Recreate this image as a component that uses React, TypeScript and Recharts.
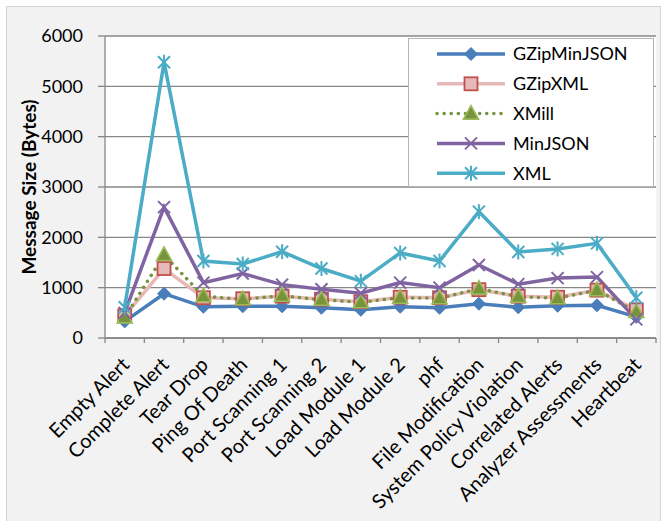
import React from 'react';
import { LineChart, Line, XAxis, YAxis, CartesianGrid, Legend } from 'recharts';

// Alert types on the category axis
const categories = [
  'Empty Alert',
  'Complete Alert',
  'Tear Drop',
  'Ping Of Death',
  'Port Scanning 1',
  'Port Scanning 2',
  'Load Module 1',
  'Load Module 2',
  'phf',
  'File Modification',
  'System Policy Violation',
  'Correlated Alerts',
  'Analyzer Assessments',
  'Heartbeat',
];

// Message sizes in bytes per encoding
const gzipMinJson = [330, 880, 620, 630, 630, 600, 560, 620, 600, 680, 610, 640, 650, 420];
const gzipXml = [440, 1380, 800, 780, 830, 770, 720, 810, 800, 960, 830, 810, 950, 560];
const xmill = [410, 1650, 830, 770, 840, 760, 710, 800, 790, 980, 820, 790, 950, 520];
const minJson = [500, 2600, 1100, 1280, 1060, 970, 890, 1100, 1000, 1450, 1070, 1190, 1210, 370];
const xml = [610, 5480, 1530, 1470, 1715, 1380, 1130, 1690, 1530, 2510, 1710, 1770, 1880, 800];

const yTicks = [0, 1000, 2000, 3000, 4000, 5000, 6000];

type MarkerKind = 'diamond' | 'square' | 'triangle' | 'cross' | 'star';

interface SeriesDef {
  key: string;
  name: string;
  values: number[];
  color: string;
  width: number;
  dash?: string;
  marker: MarkerKind;
}

const series: SeriesDef[] = [
  { key: 'gzipMinJson', name: 'GZipMinJSON', values: gzipMinJson, color: '#4a7ebb', width: 3.5, marker: 'diamond' },
  { key: 'gzipXml', name: 'GZipXML', values: gzipXml, color: '#e6b9b8', width: 3.5, marker: 'square' },
  { key: 'xmill', name: 'XMill', values: xmill, color: '#77933c', width: 3.5, dash: '0.1 7', marker: 'triangle' },
  { key: 'minJson', name: 'MinJSON', values: minJson, color: '#8064a2', width: 3.5, marker: 'cross' },
  { key: 'xml', name: 'XML', values: xml, color: '#4bacc6', width: 3.5, marker: 'star' },
];

const data = categories.map((name, i) => {
  const row: Record<string, string | number> = { name };
  series.forEach((s) => {
    row[s.key] = s.values[i];
  });
  return row;
});

const FONT = 'Lato, "Open Sans", sans-serif';

// chart geometry
const CHART_W = 662;
const CHART_H = 521;
const MARGIN = { top: 36, right: 6, bottom: 0, left: 0 };
const Y_AXIS_W = 105;
const PLOT_LEFT = MARGIN.left + Y_AXIS_W;
const PLOT_W = CHART_W - PLOT_LEFT - MARGIN.right;
const BAND = PLOT_W / categories.length;

function Marker({ kind, cx, cy }: { kind: MarkerKind; cx: number; cy: number }) {
  switch (kind) {
    case 'diamond':
      return (
        <polygon
          points={`${cx},${cy - 6.5} ${cx + 6.5},${cy} ${cx},${cy + 6.5} ${cx - 6.5},${cy}`}
          fill="#4a7ebb"
          stroke="#4a7ebb"
          strokeWidth={1}
        />
      );
    case 'square':
      return (
        <rect x={cx - 6.5} y={cy - 6.5} width={13} height={13} fill="#e6b9b8" stroke="#c0504d" strokeWidth={1.8} />
      );
    case 'triangle':
      return (
        <polygon
          points={`${cx},${cy - 8} ${cx + 7.5},${cy + 5.5} ${cx - 7.5},${cy + 5.5}`}
          fill="#77933c"
          stroke="#9bbb59"
          strokeWidth={1.6}
        />
      );
    case 'cross':
      return (
        <g stroke="#8064a2" strokeWidth={2}>
          <line x1={cx - 6} y1={cy - 6} x2={cx + 6} y2={cy + 6} />
          <line x1={cx - 6} y1={cy + 6} x2={cx + 6} y2={cy - 6} />
        </g>
      );
    case 'star':
    default:
      return (
        <g stroke="#4bacc6" strokeWidth={2}>
          <line x1={cx - 6} y1={cy - 6} x2={cx + 6} y2={cy + 6} />
          <line x1={cx - 6} y1={cy + 6} x2={cx + 6} y2={cy - 6} />
          <line x1={cx} y1={cy - 7.5} x2={cx} y2={cy + 7.5} />
        </g>
      );
  }
}

// Category label rotated 45°, with tick marks on the category boundaries
function CategoryTick(props: any) {
  const { x, y, payload } = props;
  const index = categories.indexOf(payload.value);
  const cx = typeof x === 'number' ? x : PLOT_LEFT + BAND * (index + 0.5);
  const left = cx - BAND / 2;
  const axisY = y - 5;
  const isLast = index === categories.length - 1;
  const tx = cx + 6;
  const ty = y + 23;
  return (
    <g>
      <line x1={left} y1={axisY} x2={left} y2={axisY + 5} stroke="#868686" strokeWidth={1.3} />
      {isLast && <line x1={left + BAND} y1={axisY} x2={left + BAND} y2={axisY + 5} stroke="#868686" strokeWidth={1.3} />}
      <text
        x={tx}
        y={ty}
        textAnchor="end"
        fontFamily={FONT}
        fontSize={20}
        fill="#000"
        transform={`rotate(-45 ${tx} ${ty})`}
      >
        {payload.value}
      </text>
    </g>
  );
}

function LegendBox() {
  return (
    <div
      style={{
        width: 244,
        height: 147,
        background: '#fff',
        border: '1.5px solid #b5b5b5',
        boxSizing: 'content-box',
      }}
    >
      <svg width={244} height={147}>
        {series.map((s, i) => {
          const cy = 15 + i * 29.8;
          return (
            <g key={s.key}>
              <line
                x1={28}
                y1={cy}
                x2={96}
                y2={cy}
                stroke={s.color}
                strokeWidth={s.width}
                strokeDasharray={s.dash}
                strokeLinecap={s.dash ? 'round' : 'butt'}
              />
              <Marker kind={s.marker} cx={62} cy={cy} />
              <text x={104} y={cy} dy="0.36em" fontFamily={FONT} fontSize={18} fill="#000">
                {s.name}
              </text>
            </g>
          );
        })}
      </svg>
    </div>
  );
}

export default function App() {
  return (
    <div style={{ position: 'absolute', left: 0, top: 0, width: CHART_W, height: CHART_H, overflow: 'hidden', background: '#fff' }}>
      <div
        style={{
          position: 'absolute',
          left: 6,
          top: 6,
          width: 653,
          height: 540,
          background: '#f2f2f2',
          border: '1.5px solid #d4d4d4',
        }}
      />
      <div style={{ position: 'absolute', left: 0, top: 0 }}>
        <LineChart width={CHART_W} height={CHART_H} data={data} margin={MARGIN}>
          <CartesianGrid vertical={false} stroke="#878787" strokeWidth={1.3} fill="#ffffff" />
          <XAxis
            dataKey="name"
            interval={0}
            height={183}
            padding={{ left: BAND / 2, right: BAND / 2 }}
            tickLine={false}
            tickSize={5}
            tickMargin={0}
            axisLine={{ stroke: '#868686', strokeWidth: 1.3 }}
            tick={<CategoryTick />}
          />
          <YAxis
            width={Y_AXIS_W}
            domain={[0, 6000]}
            ticks={yTicks}
            interval={0}
            tickSize={7}
            tickMargin={15}
            axisLine={{ stroke: '#868686', strokeWidth: 1.3 }}
            tickLine={{ stroke: '#868686', strokeWidth: 1.3 }}
            tick={{ fontFamily: FONT, fontSize: 18, fill: '#000' }}
            label={{
              content: (p: any) => {
                const vb = p.viewBox || { x: 0, y: 36, height: 302 };
                const cx = 28;
                const cy = vb.y + vb.height / 2;
                return (
                  <text
                    x={cx}
                    y={cy}
                    textAnchor="middle"
                    dominantBaseline="central"
                    fontFamily={FONT}
                    fontWeight="bold"
                    fontSize={19}
                    fill="#000"
                    transform={`rotate(-90 ${cx} ${cy})`}
                  >
                    Message Size (Bytes)
                  </text>
                );
              },
            }}
          />
          {series.map((s) => (
            <Line
              key={s.key}
              dataKey={s.key}
              name={s.name}
              type="linear"
              stroke={s.color}
              strokeWidth={s.width}
              strokeDasharray={s.dash}
              strokeLinecap={s.dash ? 'round' : 'butt'}
              isAnimationActive={false}
              dot={(p: any) => <Marker key={`${s.key}-${p.index}`} kind={s.marker} cx={p.cx} cy={p.cy} />}
              activeDot={false}
            />
          ))}
          <Legend
            layout="vertical"
            align="center"
            verticalAlign="middle"
            wrapperStyle={{ position: 'absolute', left: 408, top: 38, width: 'auto', height: 'auto' }}
            content={() => <LegendBox />}
          />
        </LineChart>
      </div>
    </div>
  );
}
